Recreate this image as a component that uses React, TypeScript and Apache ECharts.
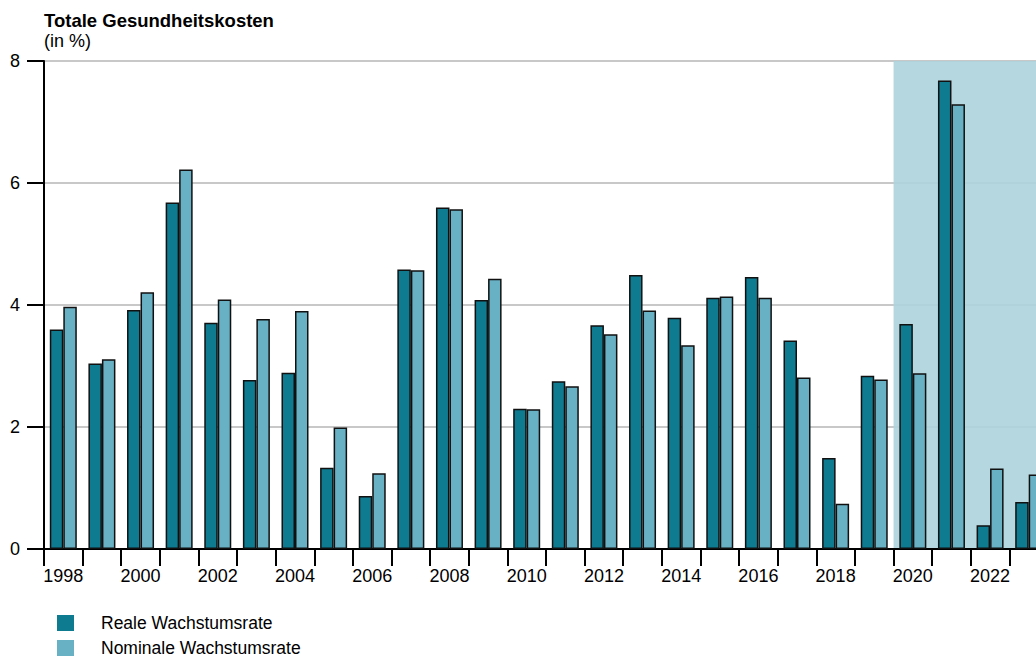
import React, { useEffect, useRef } from 'react';
import * as echarts from 'echarts';

const years = ['1998', '1999', '2000', '2001', '2002', '2003', '2004', '2005', '2006', '2007', '2008', '2009', '2010', '2011', '2012', '2013', '2014', '2015', '2016', '2017', '2018', '2019', '2020', '2021', '2022', '2023'];
const realGrowth = [3.60, 3.04, 3.92, 5.68, 3.71, 2.77, 2.89, 1.33, 0.87, 4.58, 5.60, 4.08, 2.30, 2.75, 3.67, 4.49, 3.79, 4.12, 4.46, 3.42, 1.49, 2.84, 3.69, 7.68, 0.39, 0.77];
const nominalGrowth = [3.97, 3.11, 4.21, 6.22, 4.09, 3.77, 3.90, 1.99, 1.24, 4.57, 5.57, 4.43, 2.29, 2.67, 3.52, 3.91, 3.34, 4.14, 4.12, 2.81, 0.74, 2.78, 2.88, 7.29, 1.32, 1.22];
const shadeStartYear = '2020';
const yMin = 0;
const yMax = 8;
const yStep = 2;

const FONT = '"Liberation Sans", Arial, sans-serif';
const DARK = '#0e7b90';
const LIGHT = '#68b0c4';
const SHADE = 'rgba(173,211,219,0.9)';

export default function App() {
  const ref = useRef<HTMLDivElement>(null);

  useEffect(() => {
    if (!ref.current) return;
    const chart = echarts.init(ref.current, undefined, { renderer: 'svg' });
    chart.setOption({
      animation: false,
      textStyle: { fontFamily: FONT },
      title: {
        text: 'Totale Gesundheitskosten',
        subtext: '(in %)',
        left: 44,
        top: 11,
        padding: 0,
        itemGap: 2,
        textStyle: { fontFamily: FONT, fontSize: 18.5, fontWeight: 'bold', color: '#000' },
        subtextStyle: { fontFamily: FONT, fontSize: 18, color: '#000' },
      },
      legend: {
        orient: 'vertical',
        left: 57,
        top: 614,
        itemWidth: 17,
        itemHeight: 16,
        itemGap: 7,
        icon: 'rect',
        padding: 0,
        itemStyle: { borderWidth: 0 },
        textStyle: { fontFamily: FONT, fontSize: 17.5, color: '#000', padding: [0, 0, 0, 22], lineHeight: 16 },
        data: ['Reale Wachstumsrate', 'Nominale Wachstumsrate'],
      },
      grid: { left: 44, top: 61, width: 1004, height: 488, containLabel: false },
      xAxis: {
        type: 'category',
        data: years,
        boundaryGap: true,
        axisLine: { show: true, lineStyle: { color: '#000', width: 2 } },
        axisTick: { show: true, interval: 0, length: 17, lineStyle: { color: '#000', width: 2 } },
        axisLabel: { interval: 1, margin: 18, fontSize: 18, color: '#000', fontFamily: FONT },
        splitLine: { show: false },
      },
      yAxis: {
        type: 'value',
        min: yMin,
        max: yMax,
        interval: yStep,
        axisLine: { show: true, lineStyle: { color: '#000', width: 2 } },
        axisTick: { show: true, length: 17, lineStyle: { color: '#000', width: 2 } },
        axisLabel: { margin: 24, fontSize: 18, color: '#000', fontFamily: FONT },
        splitLine: { show: true, lineStyle: { color: '#c8c8c8', width: 2 } },
      },
      series: [
        {
          name: 'Reale Wachstumsrate',
          type: 'bar',
          data: realGrowth,
          barWidth: 13.5,
          barGap: '0%',
          itemStyle: { color: DARK, borderColor: '#111', borderWidth: 1.5 },
        },
        {
          name: 'Nominale Wachstumsrate',
          type: 'bar',
          data: nominalGrowth,
          barWidth: 13.5,
          barGap: '0%',
          itemStyle: { color: LIGHT, borderColor: '#111', borderWidth: 1.5 },
        },
      ],
    });

    const startIdx = years.indexOf(shadeStartYear);
    const c0 = chart.convertToPixel({ xAxisIndex: 0 }, years[startIdx]) as number;
    const c1 = chart.convertToPixel({ xAxisIndex: 0 }, years[startIdx + 1]) as number;
    const band = c1 - c0;
    const cLast = chart.convertToPixel({ xAxisIndex: 0 }, years[years.length - 1]) as number;
    const yTop = chart.convertToPixel({ yAxisIndex: 0 }, yMax) as number;
    const yBottom = chart.convertToPixel({ yAxisIndex: 0 }, yMin) as number;
    const x0 = c0 - band / 2;
    const x1 = cLast + band / 2;
    chart.setOption({
      graphic: [
        {
          type: 'rect',
          z: 1,
          silent: true,
          shape: { x: x0, y: yTop, width: x1 - x0, height: yBottom - yTop - 1 },
          style: { fill: SHADE },
        },
      ],
    });

    return () => chart.dispose();
  }, []);

  return (
    <div style={{ position: 'fixed', left: 0, top: 0, width: 1036, height: 658, overflow: 'hidden', background: '#fff' }}>
      <div ref={ref} style={{ width: 1060, height: 720 }} />
    </div>
  );
}
